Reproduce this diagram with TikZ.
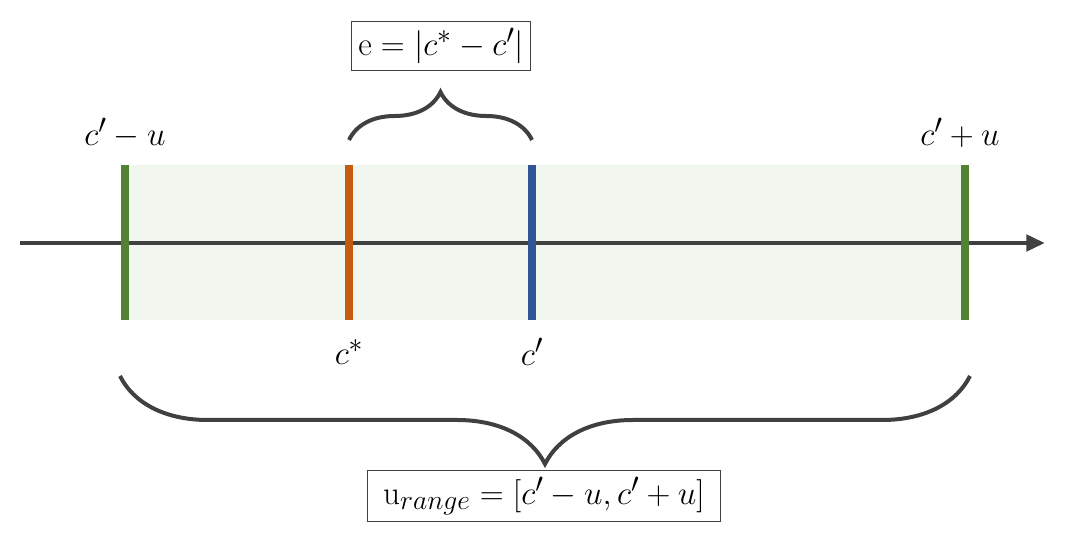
\documentclass[tikz,border=0pt]{standalone}
\usetikzlibrary{decorations.pathreplacing,arrows.meta}
\definecolor{axis}{HTML}{404040}
\definecolor{gbar}{HTML}{548235}
\definecolor{obar}{HTML}{C55A11}
\definecolor{bbar}{HTML}{2F5597}
\definecolor{band}{HTML}{F1F7EE}
\begin{document}
\begin{tikzpicture}[x=0.75pt,y=-0.75pt,
  bar/.style={line width=6.5pt},
  lbl/.style={font=\fontsize{29}{34}\selectfont, inner sep=2pt},
  box/.style={lbl, draw=axis, line width=0.8pt, inner sep=5pt},
  br/.style={draw=axis, line width=3pt, decorate}]
\useasboundingbox (0,0) rectangle (1065,548);
\fill[band] (125,165) rectangle (965,320);
\coordinate (a0) at (20,243);
\coordinate (a1) at (1045,243);
\draw[axis, line width=3.5pt, -{Triangle[length=14pt,width=12pt]}] (a0) -- (a1);
\draw[bar, gbar] (125,165) -- (125,320);
\draw[bar, gbar] (965,165) -- (965,320);
\draw[bar, obar] (349,165) -- (349,320);
\draw[bar, bbar] (532,165) -- (532,320);
\node[lbl] (lm) at (125,133) {$c'-u$};
\node[lbl] (lp) at (960,133) {$c'+u$};
\node[lbl] (cs) at (349,352) {$c^{*}$};
\node[lbl] (cp) at (532,352) {$c'$};
\node[box] (e) at (441,46) {$\mathrm{e}=|c^{*}-c'|$};
\node[box, inner xsep=12pt] (u) at (544,496) {$\mathrm{u}_{range}=[c'-u,c'+u]$};
\coordinate (t0) at (349,140);
\coordinate (t1) at (532,140);
\coordinate (b0) at (120,376);
\coordinate (b1) at (970,376);
\draw[br, decoration={brace, amplitude=36pt, aspect=0.5}] (t0) -- (t1);
\draw[br, decoration={brace, mirror, amplitude=66pt, aspect=0.5}] (b0) -- (b1);
\end{tikzpicture}
\end{document}
